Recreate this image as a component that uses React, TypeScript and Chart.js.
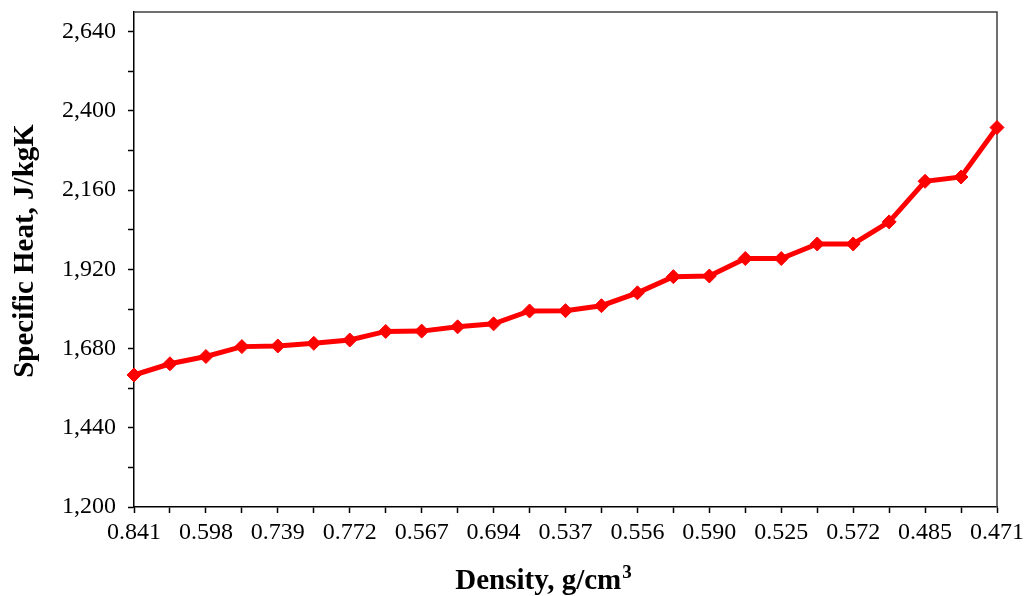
import React, { useEffect, useRef } from "react";
import { Chart, registerables } from "chart.js";

Chart.register(...registerables);

// Category labels (only every other density label is printed in the source chart)
const densityLabels = [
  "0.841", "", "0.598", "", "0.739", "", "0.772", "", "0.567", "", "0.694", "", "0.537",
  "", "0.556", "", "0.590", "", "0.525", "", "0.572", "", "0.485", "", "0.471",
];

// Specific heat values (J/kgK)
const specificHeat = [
  1600, 1634, 1656, 1686, 1688, 1696, 1706, 1732, 1733, 1746, 1755, 1794, 1795,
  1810, 1849, 1898, 1900, 1953, 1953, 1997, 1997, 2064, 2187, 2200, 2350,
];

const yMin = 1200;
const yMax = 2700;
const yMinorStep = 120;
const yLabelStep = 240;

const xTitleMain = "Density, g/cm";
const xTitleSup = "3";
const yTitle = "Specific Heat, J/kgK";

const FONT = '"Liberation Serif", "Times New Roman", serif';

const framePlugin = {
  id: "frameAndTitles",
  beforeDatasetsDraw(chart: any) {
    const { ctx, chartArea: a } = chart;
    ctx.save();
    ctx.strokeStyle = "#404040";
    ctx.lineWidth = 1.5;
    ctx.beginPath();
    ctx.moveTo(a.left, a.top);
    ctx.lineTo(a.right, a.top);
    ctx.lineTo(a.right, a.bottom);
    ctx.stroke();
    ctx.restore();
  },
  afterDraw(chart: any) {
    const { ctx } = chart;
    ctx.save();
    ctx.fillStyle = "#000";
    ctx.textBaseline = "alphabetic";
    // x title with superscript
    ctx.font = `bold 29px ${FONT}`;
    const mainW = ctx.measureText(xTitleMain).width;
    ctx.font = `bold 19px ${FONT}`;
    const supW = ctx.measureText(xTitleSup).width;
    const startX = 543 - (mainW + supW) / 2;
    ctx.textAlign = "left";
    ctx.font = `bold 29px ${FONT}`;
    ctx.fillText(xTitleMain, startX, 589);
    ctx.font = `bold 19px ${FONT}`;
    ctx.fillText(xTitleSup, startX + mainW + 1, 578);
    // y title
    ctx.font = `bold 29px ${FONT}`;
    ctx.textAlign = "center";
    ctx.translate(33, 251);
    ctx.rotate(-Math.PI / 2);
    ctx.fillText(yTitle, 0, 0);
    ctx.restore();
  },
};

export default function App() {
  const canvasRef = useRef<HTMLCanvasElement | null>(null);

  useEffect(() => {
    const canvas = canvasRef.current;
    if (!canvas) return;
    const chart = new Chart(canvas, {
      type: "line",
      data: {
        labels: densityLabels,
        datasets: [
          {
            data: specificHeat,
            borderColor: "#FF0000",
            backgroundColor: "#FF0000",
            borderWidth: 5,
            pointStyle: "rectRot",
            pointRadius: 7,
            pointBorderWidth: 1,
            pointBackgroundColor: "#FF0000",
            pointBorderColor: "#FF0000",
            tension: 0,
            fill: false,
          },
        ],
      },
      options: {
        responsive: false,
        animation: false,
        layout: { padding: { top: 12, right: 33, left: 0, bottom: 0 } },
        plugins: {
          legend: { display: false },
          tooltip: { enabled: false },
        },
        scales: {
          x: {
            type: "category",
            offset: false,
            afterFit: (scale: any) => {
              scale.height = 89;
              scale.paddingLeft = 0;
              scale.paddingRight = 0;
            },
            grid: {
              display: true,
              drawOnChartArea: false,
              drawTicks: true,
              tickLength: 6,
              tickWidth: 1.5,
              color: "#000",
            },
            border: { display: true, color: "#000", width: 1.5 },
            ticks: {
              autoSkip: false,
              maxRotation: 0,
              minRotation: 0,
              padding: 5,
              color: "#000",
              font: { family: FONT, size: 24 },
            },
          },
          y: {
            type: "linear",
            min: yMin,
            max: yMax,
            afterFit: (scale: any) => {
              scale.width = 134;
              scale.paddingTop = 0;
              scale.paddingBottom = 0;
            },
            grid: {
              display: true,
              drawOnChartArea: false,
              drawTicks: true,
              tickLength: 6,
              tickWidth: 1.5,
              color: "#000",
            },
            border: { display: true, color: "#000", width: 1.5 },
            ticks: {
              stepSize: yMinorStep,
              includeBounds: false,
              padding: 12,
              color: "#000",
              font: { family: FONT, size: 24 },
              callback: (value: any) =>
                Number(value) % yLabelStep === 0 ? Number(value).toLocaleString("en-US") : "",
            },
          },
        },
      },
      plugins: [framePlugin],
    });
    return () => chart.destroy();
  }, []);

  return (
    <div style={{ position: "absolute", left: 0, top: 0, width: 1030, height: 596, background: "#fff" }}>
      <canvas ref={canvasRef} width={1030} height={596} style={{ display: "block" }} />
    </div>
  );
}
